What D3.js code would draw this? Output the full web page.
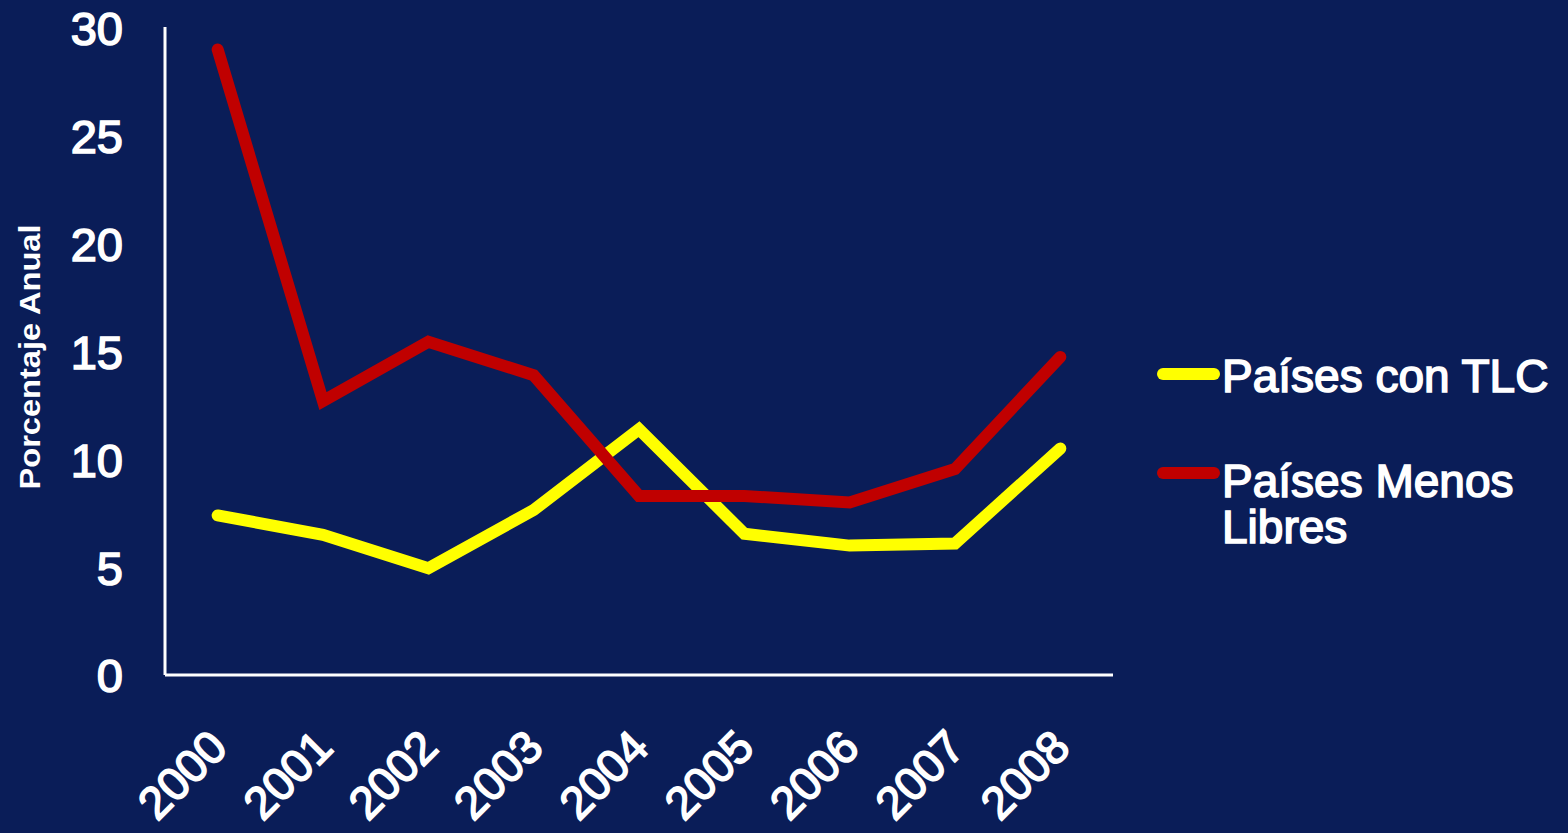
<!DOCTYPE html>
<html>
<head>
<meta charset="utf-8">
<script src="https://cdn.jsdelivr.net/npm/d3@7"></script>
<style>
  html, body { margin: 0; padding: 0; background: #0a1d58; }
  svg { display: block; }
  text { font-family: "Liberation Sans", Arial, sans-serif; fill: #ffffff; }
  .heavy { stroke: #ffffff; stroke-width: 1.6px; paint-order: stroke; }
</style>
</head>
<body>
<svg id="chart" width="1568" height="833"></svg>
<script>
const years = ["2000","2001","2002","2003","2004","2005","2006","2007","2008"];
const tlcValues = [7.4, 6.5, 4.95, 7.65, 11.4, 6.55, 6.0, 6.1, 10.5];
const menosLibresValues = [29.0, 12.7, 15.45, 13.9, 8.3, 8.3, 8.0, 9.55, 14.75];
const yTicks = [0, 5, 10, 15, 20, 25, 30];
const seriesNames = ["Países con TLC", "Países Menos Libres"];
const seriesColors = ["#ffff00", "#c00000"];
const yTitle = "Porcentaje Anual";

const svg = d3.select("#chart");
svg.append("rect").attr("width", 1568).attr("height", 833).attr("fill", "#0a1d58");

const plotLeft = 165, plotRight = 1113, plotTop = 28, plotBottom = 675;

const x = d3.scalePoint().domain(years).range([plotLeft, plotRight]).padding(0.5);
const y = d3.scaleLinear().domain([0, 30]).range([plotBottom, plotTop]);

// Y axis
const yAxis = svg.append("g").attr("transform", `translate(${plotLeft},0)`)
  .call(d3.axisLeft(y).tickValues(yTicks).tickSize(0).tickPadding(42));
yAxis.select(".domain").attr("stroke", "#ffffff").attr("stroke-width", 3)
  .attr("d", `M0,${plotTop - 1}V${plotBottom}`);
yAxis.selectAll("text").attr("fill", "#ffffff").attr("class", "heavy")
  .style("font-size", "47px").attr("dy", "0.36em");

// X axis
const xAxis = svg.append("g").attr("transform", `translate(0,${plotBottom})`)
  .call(d3.axisBottom(x).tickSize(0).tickFormat(""));
xAxis.select(".domain").attr("stroke", "#ffffff").attr("stroke-width", 3)
  .attr("d", `M${plotLeft},0H${plotRight}`);

svg.append("g").selectAll("text").data(years).join("text")
  .attr("class", "heavy")
  .attr("transform", d => `translate(${x(d) + 12},750) rotate(-45)`)
  .attr("text-anchor", "end")
  .style("font-size", "46px")
  .text(d => d);

// Y title
svg.append("text")
  .attr("transform", "translate(40,357) rotate(-90)")
  .attr("text-anchor", "middle")
  .style("font-size", "30px").style("font-weight", "bold")
  .attr("textLength", 265).attr("lengthAdjust", "spacingAndGlyphs")
  .text(yTitle);

// Lines
const line = d3.line().x((d, i) => x(years[i])).y(d => y(d));
const allSeries = [tlcValues, menosLibresValues];
svg.append("g").selectAll("path").data(allSeries).join("path")
  .attr("d", d => line(d))
  .attr("fill", "none")
  .attr("stroke", (d, i) => seriesColors[i])
  .attr("stroke-width", 12)
  .attr("stroke-linecap", "round")
  .attr("stroke-linejoin", "miter");

// Legend
const legend = svg.append("g");
const legendY = [374, 473];
seriesNames.forEach((name, i) => {
  legend.append("line")
    .attr("x1", 1163).attr("x2", 1214)
    .attr("y1", legendY[i]).attr("y2", legendY[i])
    .attr("stroke", seriesColors[i]).attr("stroke-width", 12)
    .attr("stroke-linecap", "round");
});
legend.append("text").attr("class", "heavy").attr("x", 1222).attr("y", 392)
  .style("font-size", "46px").text(seriesNames[0]);
legend.append("text").attr("class", "heavy").attr("x", 1222).attr("y", 497)
  .style("font-size", "46px").text("Países Menos");
legend.append("text").attr("class", "heavy").attr("x", 1222).attr("y", 543)
  .style("font-size", "46px").text("Libres");
</script>
</body>
</html>
